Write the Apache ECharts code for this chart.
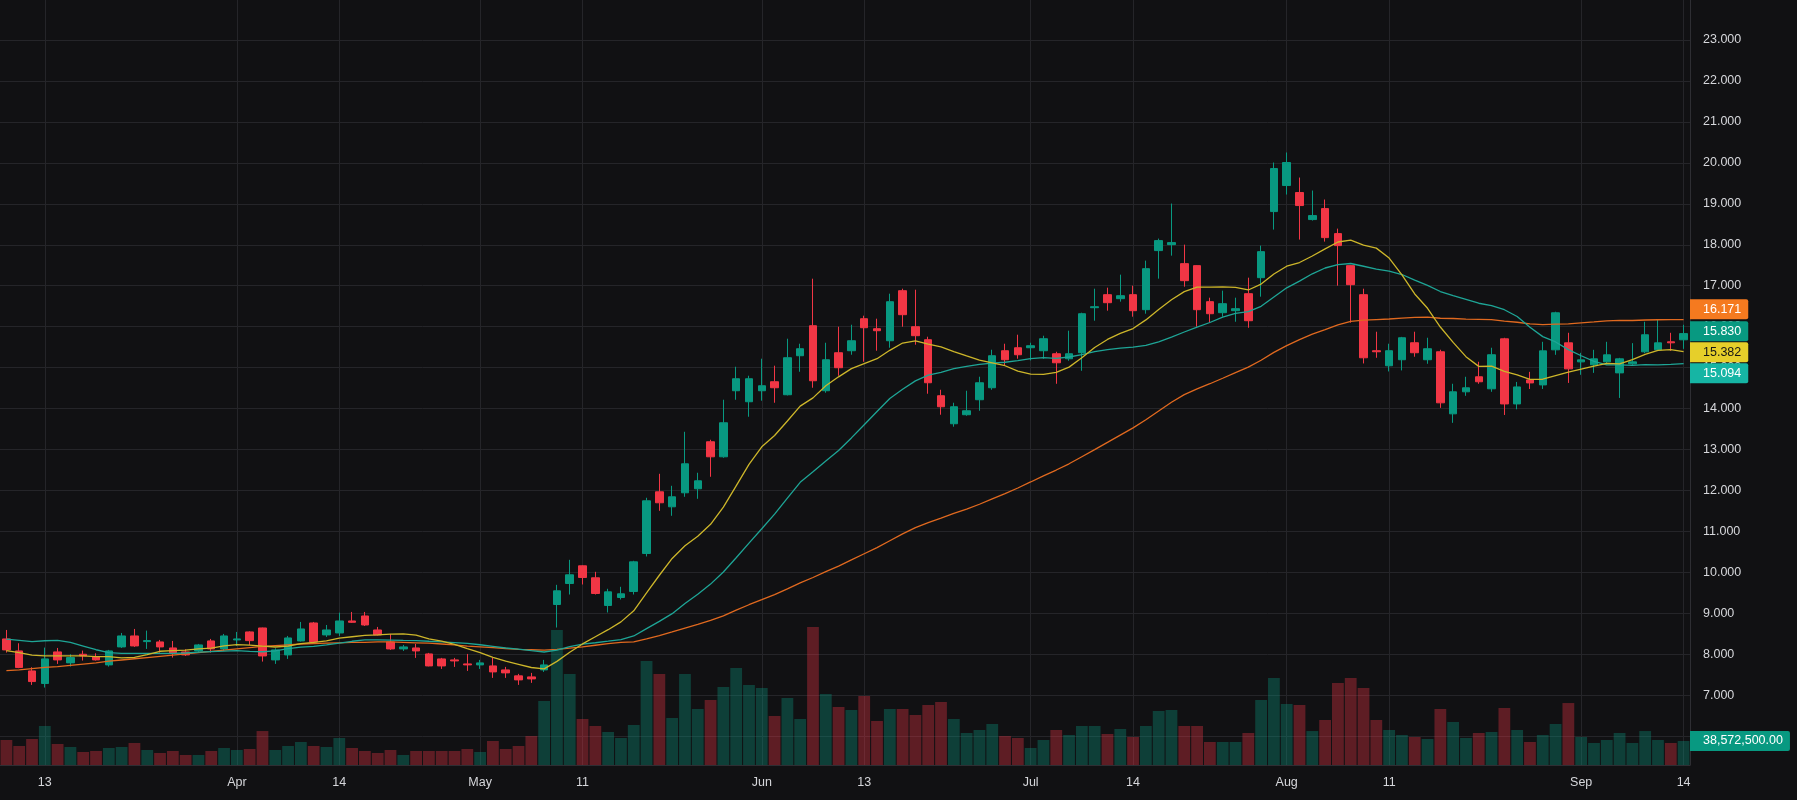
<!DOCTYPE html>
<html><head><meta charset="utf-8">
<script src="https://cdn.jsdelivr.net/npm/echarts@6/dist/echarts.min.js"></script>
<style>html,body{margin:0;padding:0;background:#111113;}#c{width:1797px;height:800px;}</style>
</head><body><div id="c"></div>
<script>
// ---- data ----
const opens = [8.374, 8.081, 7.593, 7.285, 8.057, 7.789, 8.000, 7.935, 7.740, 8.179,
8.447, 8.309, 8.301, 8.154, 8.057, 8.081, 8.325, 8.130, 8.350, 8.545,
8.642, 7.862, 7.984, 8.325, 8.764, 8.472, 8.520, 8.813, 8.935, 8.593,
8.301, 8.130, 8.154, 8.008, 7.886, 7.862, 7.764, 7.740, 7.715, 7.618,
7.472, 7.447, 7.618, 9.215, 9.728, 10.160, 9.867, 9.191, 9.386, 9.533,
10.461, 11.967, 11.601, 11.943, 12.041, 13.189, 12.822, 14.435, 14.166, 14.435,
14.655, 14.337, 15.290, 16.023, 14.435, 15.363, 15.412, 16.194, 15.950, 15.656,
16.878, 15.998, 15.681, 14.313, 13.629, 13.849, 14.215, 14.508, 15.412, 15.485,
15.485, 15.412, 15.338, 15.216, 15.363, 16.463, 16.781, 16.683, 16.781, 16.414,
17.857, 18.003, 17.539, 17.490, 16.610, 16.341, 16.390, 16.805, 17.196, 18.810,
19.446, 19.275, 18.615, 18.883, 18.272, 17.490, 16.781, 15.412, 15.045, 15.192,
15.607, 15.192, 15.387, 13.871, 14.409, 14.776, 14.482, 15.703, 14.113, 14.700,
14.577, 15.434, 15.605, 15.140, 15.067, 15.140, 14.871, 15.091, 15.385, 15.434,
15.630, 15.679];
const closes = [8.106, 7.675, 7.333, 7.886, 7.862, 7.919, 7.959, 7.862, 8.081, 8.447,
8.203, 8.333, 8.179, 8.033, 7.984, 8.228, 8.130, 8.447, 8.374, 8.333,
7.959, 8.106, 8.398, 8.618, 8.301, 8.593, 8.813, 8.780, 8.715, 8.472,
8.130, 8.179, 8.081, 7.715, 7.715, 7.837, 7.740, 7.789, 7.569, 7.545,
7.374, 7.398, 7.740, 9.549, 9.940, 9.875, 9.484, 9.524, 9.476, 10.257,
11.747, 11.699, 11.845, 12.651, 12.236, 12.822, 13.653, 14.728, 14.728, 14.557,
14.508, 15.241, 15.461, 14.679, 15.192, 14.997, 15.656, 15.974, 15.901, 16.609,
16.292, 15.779, 14.630, 14.044, 14.044, 13.946, 14.630, 15.290, 15.192, 15.314,
15.534, 15.705, 15.118, 15.338, 16.316, 16.487, 16.585, 16.756, 16.390, 17.416,
18.101, 18.052, 17.123, 16.414, 16.316, 16.561, 16.439, 16.145, 17.832, 19.861,
20.008, 18.957, 18.712, 18.174, 17.979, 17.025, 15.240, 15.387, 15.412, 15.729,
15.363, 15.461, 14.140, 14.409, 14.507, 14.654, 15.314, 14.113, 14.528, 14.626,
15.409, 16.339, 14.969, 15.189, 15.214, 15.312, 15.214, 15.140, 15.802, 15.605,
15.605, 15.830];
const lows = [8.041, 7.660, 7.252, 7.187, 7.764, 7.699, 7.846, 7.846, 7.699, 8.154,
8.179, 8.130, 8.041, 7.919, 7.959, 8.057, 8.041, 8.081, 8.203, 8.228,
7.821, 7.764, 7.886, 8.310, 8.290, 8.423, 8.447, 8.764, 8.691, 8.460,
8.106, 8.081, 7.911, 7.705, 7.642, 7.691, 7.593, 7.642, 7.423, 7.423,
7.252, 7.301, 7.569, 8.653, 9.459, 9.704, 9.459, 9.020, 9.337, 9.459,
10.388, 11.503, 11.381, 11.845, 11.796, 12.334, 12.798, 14.215, 13.800, 14.191,
14.142, 14.320, 14.899, 14.508, 14.386, 14.801, 15.314, 15.143, 15.412, 15.485,
15.998, 15.559, 14.362, 13.849, 13.556, 13.824, 13.946, 14.459, 15.046, 15.217,
15.175, 15.216, 14.605, 15.167, 14.922, 16.145, 16.390, 16.610, 16.243, 16.316,
17.172, 17.734, 16.976, 15.998, 16.096, 16.243, 16.120, 15.973, 16.732, 18.370,
19.226, 18.126, 18.590, 18.077, 17.001, 16.096, 15.101, 15.240, 14.906, 14.931,
15.265, 15.093, 14.017, 13.651, 14.311, 14.605, 14.409, 13.843, 13.982, 14.478,
14.478, 15.312, 14.626, 14.824, 14.871, 15.091, 14.259, 15.067, 15.352, 15.409,
15.409, 15.458];
const highs = [8.593, 8.268, 7.683, 8.163, 8.154, 8.000, 8.089, 8.024, 8.106, 8.520,
8.618, 8.577, 8.350, 8.325, 8.122, 8.252, 8.374, 8.496, 8.545, 8.560,
8.650, 8.146, 8.447, 8.789, 8.789, 8.715, 9.016, 9.033, 9.033, 8.667,
8.496, 8.228, 8.252, 8.033, 7.911, 7.911, 8.008, 7.862, 7.911, 7.691,
7.520, 7.545, 7.862, 9.695, 10.306, 10.170, 10.013, 9.598, 9.647, 10.282,
11.821, 12.407, 12.114, 13.433, 12.432, 13.238, 14.215, 15.021, 14.801, 15.217,
15.046, 15.705, 15.583, 17.171, 15.607, 15.998, 16.047, 16.267, 16.194, 16.805,
16.927, 16.902, 15.754, 14.459, 14.142, 14.435, 14.777, 15.436, 15.583, 15.803,
15.607, 15.778, 15.387, 15.901, 16.340, 16.927, 16.952, 17.270, 17.000, 17.612,
18.150, 19.006, 18.003, 17.500, 16.707, 16.879, 16.707, 17.196, 17.979, 20.008,
20.253, 19.641, 19.324, 19.104, 18.394, 17.500, 16.927, 15.876, 15.583, 15.750,
15.876, 15.729, 15.436, 14.605, 14.776, 15.143, 15.485, 15.728, 14.650, 14.896,
15.630, 16.364, 15.850, 15.360, 15.434, 15.630, 15.238, 15.597, 16.119, 16.168,
15.850, 16.046];
// volumes in millions of shares
const volumesM = [40.2, 30.5, 41.8, 62.7, 33.8, 28.9, 20.9, 22.5, 27.3, 28.9,
35.4, 24.1, 19.3, 22.5, 16.1, 16.1, 22.5, 27.3, 24.1, 25.7,
54.6, 24.1, 30.5, 37.0, 30.5, 28.9, 43.4, 27.3, 22.5, 19.3,
24.1, 16.1, 22.5, 22.5, 22.5, 22.5, 25.7, 20.9, 38.6, 25.7,
30.5, 46.6, 102.9, 217.0, 146.3, 73.9, 62.7, 53.0, 43.4, 64.3,
167.1, 146.3, 75.5, 146.3, 90.0, 104.5, 125.4, 155.9, 128.6, 123.8,
78.8, 107.7, 73.9, 221.8, 114.1, 93.2, 88.4, 110.9, 70.7, 90.0,
90.0, 80.4, 96.4, 101.3, 73.9, 51.4, 56.3, 65.9, 46.6, 43.4,
27.3, 40.2, 56.3, 48.2, 62.7, 62.7, 49.8, 57.9, 45.0, 62.7,
86.8, 88.4, 62.7, 62.7, 37.0, 37.0, 37.0, 51.4, 104.5, 139.8,
98.0, 96.4, 54.6, 72.3, 131.8, 139.8, 123.8, 72.3, 56.3, 48.2,
45.0, 41.8, 90.0, 69.1, 43.4, 51.4, 53.0, 91.6, 56.3, 37.0,
48.2, 65.9, 99.6, 45.0, 35.4, 40.2, 51.4, 35.4, 54.6, 40.2,
35.4, 38.5725];
const ma10Lead = [8.09, 8.04, 7.98, 7.96, 7.96, 7.96, 7.96, 7.94, 7.94];
const ma20Lead = [8.37, 8.34, 8.31, 8.33, 8.34, 8.29, 8.20, 8.11, 8.04, 8.02,
8.02, 8.02, 8.02, 8.02, 8.03, 8.05, 8.065, 8.075, 8.09];
const ma50Lead = [7.60, 7.62, 7.65, 7.68, 7.70, 7.73, 7.76, 7.79, 7.83, 7.86,
7.89, 7.92, 7.95, 7.98, 8.01, 8.04, 8.07, 8.10, 8.13, 8.16,
8.19, 8.21, 8.23, 8.25, 8.26, 8.27, 8.28, 8.29, 8.29, 8.30,
8.30, 8.29, 8.28, 8.27, 8.25, 8.23, 8.20, 8.18, 8.16, 8.14,
8.12, 8.11, 8.10, 8.12, 8.15, 8.18, 8.22, 8.26, 8.29];
// last values shown in the price-scale tags
const maLastLabels = { ma10: 15.382, ma20: 15.094, ma50: 16.171 };
const lastVolume = 38572500;
// x-axis tick labels by bar index
const tickLabels = {3:'13', 18:'Apr', 26:'14', 37:'May', 45:'11', 59:'Jun', 67:'13', 80:'Jul', 88:'14', 100:'Aug', 108:'11', 123:'Sep', 131:'14'};

// ---- chart ----
const categories = closes.map((_, i) => String(i));
function sma(n, lead) {
  return closes.map((c, i) => {
    if (i < n - 1) return lead[i];
    let s = 0;
    for (let k = i - n + 1; k <= i; k++) s += closes[k];
    return +(s / n).toFixed(4);
  });
}
const ma10 = sma(10, ma10Lead), ma20 = sma(20, ma20Lead), ma50 = sma(50, ma50Lead);
const candles = closes.map((c, i) => [opens[i], c, lows[i], highs[i]]);
const UP = '#089981', DOWN = '#f23645';
const volData = volumesM.map((v, i) => ({
  value: v * 1e6,
  itemStyle: { color: closes[i] >= opens[i] ? 'rgba(8,153,129,0.34)' : 'rgba(242,54,69,0.34)' }
}));
const lastIdx = categories.length - 1;
const FONT = "'Liberation Sans', Arial, sans-serif";
const GRID = '#252529', AXIS = '#2e2e33', TXT = '#d6d7db';
const vLines = Object.keys(tickLabels).map(k => ({ xAxis: Number(k) }));
const gridMarkLine = {
  silent: true, symbol: ['none', 'none'], animation: false, z: 1,
  label: { show: false }, emphasis: { disabled: true },
  lineStyle: { color: GRID, width: 1, type: 'solid' }, data: vLines
};
function tag(value, text, bg, fg, dy) {
  return {
    symbol: 'circle', symbolSize: 1, silent: true, animation: false,
    itemStyle: { color: 'rgba(0,0,0,0)' },
    data: [{
      coord: [categories[lastIdx], value], value: value,
      label: {
        show: true, position: 'inside', align: 'left', verticalAlign: 'middle',
        offset: [6.4, dy], formatter: text, color: fg, backgroundColor: bg,
        padding: [3, 7, 3, 13], lineHeight: 14, fontSize: 12.5, fontFamily: FONT,
        borderRadius: [0, 2, 2, 0]
      }
    }]
  };
}
const chart = echarts.init(document.getElementById('c'), null, { renderer: 'canvas' });
chart.setOption({
  backgroundColor: '#111113',
  animation: false,
  textStyle: { fontFamily: FONT },
  grid: [
    { left: 0, right: 107, top: -0.95, height: 737.1, containLabel: false, outerBoundsMode: 'none' },
    { left: 0, right: 107, top: 565, height: 200, containLabel: false, outerBoundsMode: 'none' }
  ],
  xAxis: [
    { type: 'category', gridIndex: 0, data: categories, boundaryGap: true,
      axisLine: { show: false }, axisTick: { show: false }, axisLabel: { show: false }, splitLine: { show: false } },
    { type: 'category', gridIndex: 1, data: categories, boundaryGap: true,
      axisLine: { show: true, lineStyle: { color: AXIS, width: 1 } }, axisTick: { show: false },
      axisLabel: { show: true, interval: (i) => tickLabels[i] !== undefined, formatter: (v) => tickLabels[+v] || '',
        color: TXT, fontSize: 12.5, fontFamily: FONT, margin: 11, hideOverlap: false },
      splitLine: { show: false } }
  ],
  yAxis: [
    { type: 'value', gridIndex: 0, position: 'right', min: 6, max: 24, interval: 1, scale: false,
      axisLine: { show: true, lineStyle: { color: AXIS, width: 1 } }, axisTick: { show: false },
      axisLabel: { show: true, formatter: (v) => v.toFixed(3), color: TXT, fontSize: 12.5, fontFamily: FONT,
        margin: 13, showMaxLabel: false, showMinLabel: true, hideOverlap: false },
      splitLine: { show: true, showMaxLine: false, lineStyle: { color: GRID, width: 1 } } },
    { type: 'value', gridIndex: 1, position: 'right', min: 0, max: 321.44e6,
      axisLine: { show: true, lineStyle: { color: AXIS, width: 1 } }, axisTick: { show: false },
      axisLabel: { show: false }, splitLine: { show: false } }
  ],
  series: [
    { name: 'Volume', type: 'bar', xAxisIndex: 1, yAxisIndex: 1, data: volData, barWidth: '92%', z: 2,
      emphasis: { disabled: true }, markLine: gridMarkLine,
      markPoint: tag(lastVolume, lastVolume.toLocaleString('en-US', { minimumFractionDigits: 2, maximumFractionDigits: 2 }), UP, '#ffffff', 0) },
    { name: 'Price', type: 'candlestick', xAxisIndex: 0, yAxisIndex: 0, data: candles, barWidth: 8, z: 2,
      itemStyle: { color: UP, color0: DOWN, borderColor: UP, borderColor0: DOWN, borderWidth: 1 },
      emphasis: { disabled: true }, markLine: gridMarkLine,
      markPoint: tag(closes[lastIdx], closes[lastIdx].toFixed(3), UP, '#ffffff', -2.3) },
    { name: 'MA50', type: 'line', xAxisIndex: 0, yAxisIndex: 0, data: ma50, showSymbol: false, symbol: 'none', z: 3,
      lineStyle: { color: '#e0691f', width: 1.3 }, emphasis: { disabled: true },
      markPoint: tag(maLastLabels.ma50, maLastLabels.ma50.toFixed(3), '#f57a1f', '#ffffff', -10.5) },
    { name: 'MA20', type: 'line', xAxisIndex: 0, yAxisIndex: 0, data: ma20, showSymbol: false, symbol: 'none', z: 3,
      lineStyle: { color: '#1ea596', width: 1.3 }, emphasis: { disabled: true },
      markPoint: tag(maLastLabels.ma20, maLastLabels.ma20.toFixed(3), '#16b5a4', '#ffffff', 9.6) },
    { name: 'MA10', type: 'line', xAxisIndex: 0, yAxisIndex: 0, data: ma10, showSymbol: false, symbol: 'none', z: 3,
      lineStyle: { color: '#cdb62a', width: 1.3 }, emphasis: { disabled: true },
      markPoint: tag(maLastLabels.ma10, maLastLabels.ma10.toFixed(3), '#e6cf2a', '#161616', 0.3) }
  ]
});
</script>
</body></html>
